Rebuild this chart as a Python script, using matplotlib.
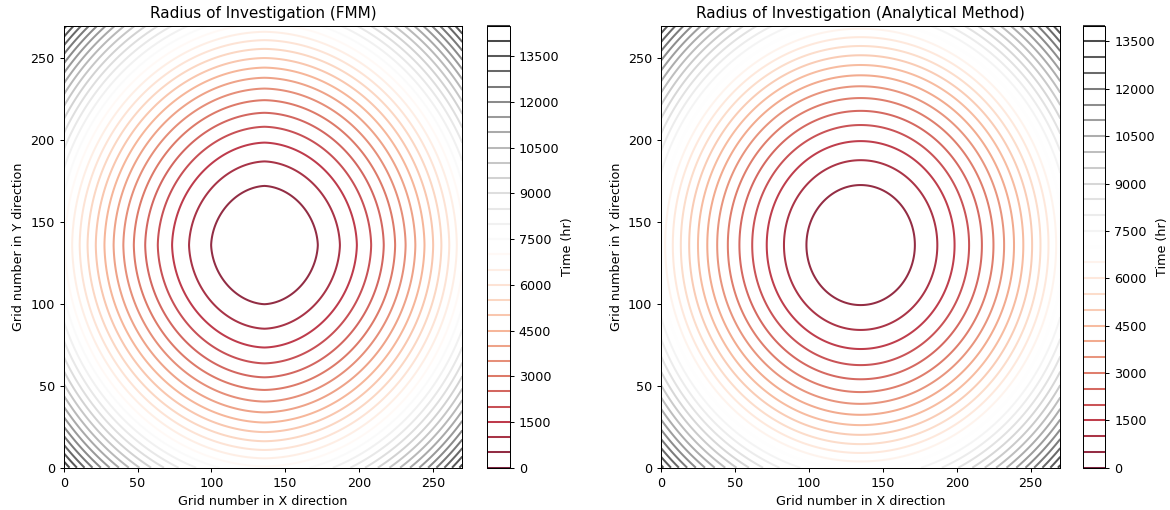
import heapq
import math
import numpy as np
import matplotlib
matplotlib.use("Agg")
import matplotlib.pyplot as plt

# grid and well
NX, NY = 271, 271
WELL_FMM = (136, 136)
WELL_ANA = (135, 136)

# time ~ coef * r^2, fitted to the 500/1000/1500 hr rings
COEF_FMM = 0.383
COEF_ANA = 0.372

LEVELS_FMM = np.arange(0, 14501, 500)
LEVELS_ANA = np.arange(0, 14001, 500)
CBAR_TICKS = [0, 1500, 3000, 4500, 6000, 7500, 9000, 10500, 12000, 13500]

TITLES = ["Radius of Investigation (FMM)", "Radius of Investigation (Analytical Method)"]
XLABEL = "Grid number in X direction"
YLABEL = "Grid number in Y direction"
CBAR_LABEL = "Time (hr)"


def fast_marching(nx, ny, src):
    """first order fast marching, unit speed, point source"""
    inf = float("inf")
    T = [[inf] * nx for _ in range(ny)]
    done = [[False] * nx for _ in range(ny)]
    sx, sy = src
    T[sy][sx] = 0.0
    heap = [(0.0, sy, sx)]

    def known(i, j):
        if 0 <= i < ny and 0 <= j < nx and done[i][j]:
            return T[i][j]
        return inf

    while heap:
        t, i, j = heapq.heappop(heap)
        if done[i][j]:
            continue
        done[i][j] = True
        for a, b in ((i + 1, j), (i - 1, j), (i, j + 1), (i, j - 1)):
            if not (0 <= a < ny and 0 <= b < nx) or done[a][b]:
                continue
            tx = min(known(a, b - 1), known(a, b + 1))
            ty = min(known(a - 1, b), known(a + 1, b))
            if abs(tx - ty) >= 1.0:
                new = min(tx, ty) + 1.0
            else:
                new = 0.5 * (tx + ty + math.sqrt(2.0 - (tx - ty) ** 2))
            if new < T[a][b]:
                T[a][b] = new
                heapq.heappush(heap, (new, a, b))
    return np.array(T)


x = np.arange(NX)
y = np.arange(NY)
X, Y = np.meshgrid(x, y)

tau = fast_marching(NX, NY, WELL_FMM)
t_fmm = COEF_FMM * tau ** 2
r_ana = np.hypot(X - WELL_ANA[0], Y - WELL_ANA[1])
t_ana = COEF_ANA * r_ana ** 2

DPI = 91.44
fig = plt.figure(figsize=(1170 / DPI, 510 / DPI), dpi=DPI)

W, H = 1170.0, 510.0
bottom = (H - 467.7) / H
height = (467.7 - 25.7) / H
ax1 = fig.add_axes([63.7 / W, bottom, (462.3 - 63.7) / W, height])
cax1 = fig.add_axes([486.7 / W, bottom, 23.3 / W, height])
ax2 = fig.add_axes([661.0 / W, bottom, (1060.3 - 661.0) / W, height])
cax2 = fig.add_axes([1083.3 / W, bottom, 22.0 / W, height])

panels = [
    (ax1, cax1, t_fmm, LEVELS_FMM, TITLES[0]),
    (ax2, cax2, t_ana, LEVELS_ANA, TITLES[1]),
]
for ax, cax, field, levels, title in panels:
    cs = ax.contour(X, Y, field, levels=levels, cmap="RdGy", alpha=0.85,
                    linewidths=1.6)
    ax.set_xlim(0, NX - 1)
    ax.set_ylim(0, NY - 1)
    ax.set_title(title)
    ax.set_xlabel(XLABEL)
    ax.set_ylabel(YLABEL)
    cb = fig.colorbar(cs, cax=cax, ticks=CBAR_TICKS)
    cb.set_label(CBAR_LABEL, labelpad=1)

fig.savefig("out.png", dpi=DPI)
